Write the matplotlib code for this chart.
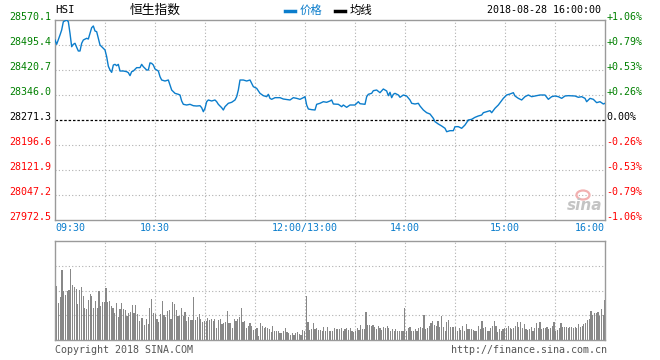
import numpy as np
import matplotlib
matplotlib.use('Agg')
import matplotlib.pyplot as plt
from matplotlib.patches import Ellipse

# ---------------- data ----------------
minutes = [0, 1, 3, 4, 5, 7, 8, 9, 10, 11, 12, 13, 14, 15, 16, 17, 19, 20, 21, 22, 23, 24, 25, 26, 27, 29,
           30, 31, 32, 33, 34, 35, 36, 37, 38, 39, 41, 43, 44, 45, 46, 47, 49, 51, 52, 53, 55, 56, 57, 58, 59,
           60, 62, 63, 64, 66, 68, 69, 70, 72, 74, 75, 76, 77, 79, 81, 83, 85, 87, 88, 89,
           90, 91, 92, 94, 96, 97, 98, 100, 101, 102, 104, 106, 108, 109, 110, 111, 113, 115, 117, 118, 119,
           121, 123, 125, 127, 128, 129, 130, 132, 135, 137, 141, 143, 145, 147, 149, 150,
           151, 152, 154, 156, 157, 159, 161, 163, 165, 166, 167, 170, 172, 173, 175, 177, 180,
           182, 183, 186, 187, 188, 190, 191, 193, 195, 197, 199, 200, 201, 202, 203, 204, 206, 207, 209,
           211, 213, 214, 216, 218, 219, 221, 223, 225, 227, 228, 230, 232, 234, 235, 237, 239,
           240, 242, 244, 246, 248, 250, 252, 254, 256, 257, 259, 261, 262, 264, 266, 268, 269,
           271, 273, 275, 276, 278, 280, 282, 284, 286, 288, 291, 294, 296, 298,
           300, 302, 304, 306, 308, 312, 314, 316, 318, 319, 321, 323, 325, 327, 329, 330]
prices = [28510.3, 28497.5, 28525.3, 28540.2, 28565.0, 28570.1, 28565.0, 28530.3, 28490.3, 28497.5, 28500.5,
          28488.5, 28477.5, 28477.5, 28500.5, 28510.3, 28515.4, 28513.3, 28530.3, 28547.1, 28552.2, 28537.2,
          28535.2, 28515.4, 28495.4, 28485.5,
          28480.5, 28460.5, 28432.0, 28420.7, 28413.7, 28435.6, 28437.6, 28433.6, 28437.6, 28417.7, 28417.7,
          28415.7, 28412.7, 28403.8, 28415.7, 28417.7, 28427.7, 28427.7, 28437.6, 28430.6, 28420.7, 28420.7,
          28442.0, 28440.6, 28435.6,
          28423.7, 28417.7, 28400.8, 28390.8, 28387.8, 28390.8, 28375.9, 28360.9, 28351.0, 28348.1, 28346.0,
          28328.1, 28318.2, 28316.1, 28318.2, 28314.0, 28313.1, 28314.0, 28308.1, 28296.1,
          28306.3, 28326.0, 28331.1, 28328.1, 28331.1, 28326.0, 28318.2, 28308.1, 28301.2, 28311.1, 28321.2,
          28324.2, 28331.1, 28341.0, 28360.9, 28390.8, 28390.8, 28387.8, 28390.8, 28380.9, 28370.9,
          28365.9, 28351.0, 28344.0, 28341.0, 28348.1, 28336.0, 28333.1, 28338.0, 28338.0, 28334.0, 28331.1,
          28338.0, 28336.0, 28333.1, 28338.0, 28341.0,
          28316.1, 28304.2, 28302.2, 28301.2, 28318.2, 28321.2, 28326.0, 28324.2, 28328.1, 28331.1, 28319.1,
          28318.2, 28311.1, 28316.1, 28309.2, 28316.1, 28316.1,
          28326.0, 28320.0, 28318.2, 28341.0, 28348.1, 28351.0, 28358.9, 28360.9, 28352.9, 28363.9, 28358.0,
          28344.0, 28354.1, 28338.0, 28348.1, 28351.0, 28346.0, 28339.1, 28346.0,
          28343.0, 28331.1, 28321.2, 28319.1, 28321.2, 28313.1, 28301.2, 28293.1, 28289.2, 28276.3, 28266.3,
          28259.3, 28253.4, 28246.5, 28236.3, 28239.4, 28239.4,
          28251.4, 28251.4, 28246.5, 28256.4, 28271.3, 28273.3, 28279.3, 28283.3, 28286.2, 28293.1, 28296.1,
          28299.2, 28293.1, 28306.3, 28316.1, 28329.1, 28336.0,
          28346.0, 28349.0, 28352.9, 28343.0, 28336.0, 28331.1, 28341.0, 28346.0, 28341.0, 28343.0, 28346.0,
          28346.0, 28333.1, 28341.0,
          28343.0, 28341.0, 28336.0, 28343.0, 28344.0, 28343.0, 28339.1, 28341.0, 28336.0, 28326.0, 28336.0,
          28333.1, 28323.1, 28326.0, 28319.1, 28321.2]

volumes = [2.37, 2.17, 1.5, 1.73, 2.81, 2.0, 1.81, 1.97, 2.01, 2.85, 2.21, 2.16, 2.07, 1.47, 2.03, 2.15, 1.77,
           1.31, 1.24, 1.6, 1.87, 1.77, 1.31, 1.57, 1.31, 1.97, 1.37, 1.53, 1.55, 2.1, 1.53, 1.57, 1.37, 1.31,
           1.11, 1.5, 0.93, 1.24, 1.48, 1.27, 1.21, 0.97, 1.11, 1.15, 1.41, 1.11, 1.41, 1.04, 0.75, 0.88, 0.88,
           0.61, 0.84, 0.64, 1.31, 1.65, 1.11, 1.04, 0.84, 0.71, 1.04, 1.57, 1.01, 0.91, 1.17, 1.2, 0.84, 1.53,
           1.44, 1.2, 0.97, 0.97, 1.31, 0.97, 1.13, 0.77, 0.93, 0.8, 0.8, 1.73, 0.8, 0.93, 1.07, 0.84, 0.71,
           0.77, 0.77, 0.88, 0.81, 0.84, 0.77, 0.84, 0.47, 0.81, 0.84, 0.64, 0.67, 0.71, 1.17, 0.67, 0.67, 0.48,
           0.84, 0.77, 0.84, 0.91, 1.28, 0.71, 0.75, 0.48, 0.57, 0.67, 0.57, 0.4, 0.44, 0.48, 0.17, 0.67, 0.57,
           0.48, 0.51, 0.48, 0.44, 0.31, 0.57, 0.37, 0.35, 0.35, 0.27, 0.27, 0.37, 0.48, 0.31, 0.28, 0.21, 0.27,
           0.21, 0.27, 0.31, 0.24, 0.21, 0.4, 0.37, 1.77, 0.71, 0.4, 0.44, 0.67, 0.44, 0.48, 0.4, 0.4, 0.37,
           0.51, 0.37, 0.51, 0.37, 0.35, 0.35, 0.48, 0.44, 0.44, 0.44, 0.48, 0.37, 0.44, 0.48, 0.4, 0.48, 0.37,
           0.31, 0.35, 0.48, 0.4, 0.61, 0.44, 0.44, 1.15, 0.61, 0.61, 0.57, 0.61, 0.51, 0.44, 0.57, 0.48, 0.4,
           0.51, 0.48, 0.57, 0.48, 0.37, 0.44, 0.35, 0.44, 0.35, 0.35, 0.35, 0.35, 1.31, 0.37, 0.48, 0.53, 0.37,
           0.37, 0.44, 0.37, 0.48, 0.53, 0.48, 1.01, 0.44, 0.48, 0.57, 0.67, 0.75, 0.61, 0.57, 0.77, 0.53, 0.96,
           0.53, 0.35, 0.71, 0.81, 0.53, 0.53, 0.53, 0.53, 0.37, 0.48, 0.4, 0.57, 0.37, 0.64, 0.44, 0.44, 0.44,
           0.4, 0.37, 0.37, 0.57, 0.44, 0.77, 0.48, 0.53, 0.35, 0.35, 0.48, 0.57, 0.77, 0.57, 0.31, 0.44, 0.37,
           0.44, 0.48, 0.48, 0.57, 0.48, 0.44, 0.48, 0.57, 0.71, 0.53, 0.71, 0.48, 0.64, 0.44, 0.4, 0.44, 0.53,
           0.37, 0.48, 0.67, 0.48, 0.71, 0.44, 0.48, 0.48, 0.53, 0.44, 0.48, 0.57, 0.71, 0.37, 0.4, 0.48, 0.67,
           0.53, 0.51, 0.51, 0.48, 0.53, 0.53, 0.48, 0.53, 0.48, 0.64, 0.53, 0.57, 0.64, 0.67, 0.8, 0.84, 1.17,
           1.01, 1.11, 1.11, 1.15, 0.97, 1.24, 1.01, 1.6]

prev_close = 28271.3
price_ticks = [28570.1, 28495.4, 28420.7, 28346.0, 28271.3, 28196.6, 28121.9, 28047.2, 27972.5]
price_labels = ['28570.1', '28495.4', '28420.7', '28346.0', '28271.3', '28196.6', '28121.9', '28047.2', '27972.5']
pct_labels = ['+1.06%', '+0.79%', '+0.53%', '+0.26%', '0.00%', '-0.26%', '-0.53%', '-0.79%', '-1.06%']
time_ticks = [0, 60, 150, 210, 270, 330]
time_labels = ['09:30', '10:30', '12:00/13:00', '14:00', '15:00', '16:00']
grid_minutes = [30, 60, 90, 120, 150, 180, 210, 240, 270, 300]
vol_grid = [1, 2, 3]

# ---------------- style ----------------
W, H = 660, 360
MONO = 'DejaVu Sans Mono'
CJK = ['Noto Sans CJK SC', 'DejaVu Sans']
BLUE = '#0b7dcc'
GREEN = '#008000'
RED = '#ff0000'
GRID = '#b0b0b0'
SPINE = '#9a9a9a'
FS = 7.2

fig = plt.figure(figsize=(6.6, 3.6), dpi=100)


def rect(x0, y0, x1, y1):
    return [x0 / W, 1 - y1 / H, (x1 - x0) / W, (y1 - y0) / H]


def ftext(x, y, s, **kw):
    fig.text(x / W, 1 - y / H, s, **kw)


ax = fig.add_axes(rect(55, 20, 605, 220))
axv = fig.add_axes(rect(55, 241, 605, 340))

for a in (ax, axv):
    a.set_xlim(0, 330)
    a.set_xticks([])
    a.set_yticks([])
    for s in a.spines.values():
        s.set_color(SPINE)
        s.set_linewidth(1.0)
    for m in grid_minutes:
        a.axvline(m, color=GRID, lw=0.8, ls=(0, (1, 2)), zorder=0)

ax.set_ylim(price_ticks[-1], price_ticks[0])
for v in price_ticks[1:-1]:
    if v == prev_close:
        ax.axhline(v, color='black', lw=0.9, ls=(0, (2, 1.5)), zorder=1)
    else:
        ax.axhline(v, color=GRID, lw=0.8, ls=(0, (1, 2)), zorder=0)

ax.plot(minutes, prices, color=BLUE, lw=1.0, zorder=3)

# price labels (left) and percent labels (right)
for v, lab, pct in zip(price_ticks, price_labels, pct_labels):
    if v > prev_close:
        c = GREEN
    elif v < prev_close:
        c = RED
    else:
        c = 'black'
    ax.annotate(lab, xy=(0, v), xycoords=('axes fraction', 'data'), xytext=(-2.5, 2.4),
                textcoords='offset points', ha='right', va='center', color=c,
                fontsize=FS, family=MONO, annotation_clip=False)
    ax.annotate(pct, xy=(1, v), xycoords=('axes fraction', 'data'), xytext=(1.2, 2.4),
                textcoords='offset points', ha='left', va='center', color=c,
                fontsize=FS, family=MONO, annotation_clip=False)

# time labels
for t, lab in zip(time_ticks, time_labels):
    ha = 'left' if t == time_ticks[0] else ('right' if t == time_ticks[-1] else 'center')
    ax.annotate(lab, xy=(t, 0), xycoords=('data', 'axes fraction'), xytext=(0, -5.6),
                textcoords='offset points', ha=ha, va='center', color=BLUE,
                fontsize=FS, family=MONO, annotation_clip=False)

# volume bars
n = len(volumes)
bar_x = np.arange(n) * 330.0 / (n - 1)
axv.set_ylim(0, 4)
for g in vol_grid:
    axv.axhline(g, color=GRID, lw=0.8, ls=(0, (1, 2)), zorder=0)
axv.bar(bar_x, volumes, width=0.7, color='#888888', linewidth=0, zorder=2)

# header
ftext(55, 10, 'HSI', fontsize=FS + 0.6, family=MONO, color='black', va='center', ha='left')
ftext(130, 10, '恒生指数', fontsize=9.2, family=CJK, color='black', va='center', ha='left')
ftext(300, 10, '价格', fontsize=8.2, family=CJK, color=BLUE, va='center', ha='left')
ftext(350, 10, '均线', fontsize=8.2, family=CJK, color='black', va='center', ha='left')
fig.add_artist(plt.Line2D([285 / W, 295 / W], [1 - 11 / H, 1 - 11 / H], color=BLUE, lw=2.5))
fig.add_artist(plt.Line2D([335 / W, 345 / W], [1 - 11 / H, 1 - 11 / H], color='black', lw=2.5))
ftext(601, 10, '2018-08-28 16:00:00', fontsize=FS, family=MONO, color='black', va='center', ha='right')

# footer
ftext(55, 350, 'Copyright 2018 SINA.COM', fontsize=FS, family=MONO, color='#555555', va='center', ha='left')
ftext(607, 350, 'http://finance.sina.com.cn', fontsize=FS, family=MONO, color='#555555', va='center', ha='right')

# watermark
fig.add_artist(Ellipse((583 / 100, (H - 195) / 100), 0.13, 0.09, transform=fig.dpi_scale_trans,
                       fill=False, ec='#f2b0b0', lw=1.6))
ftext(585, 205, 'sina', fontsize=11, family='DejaVu Sans', style='italic', weight='bold',
      color='#c4c4c4', va='center', ha='center')

fig.savefig('out.png', dpi=100)
